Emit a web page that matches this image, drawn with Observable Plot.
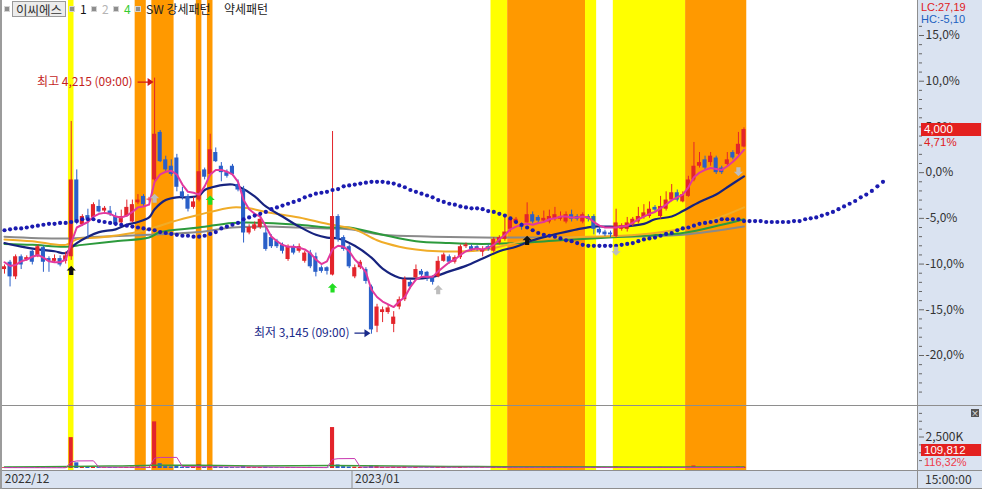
<!DOCTYPE html>
<html><head><meta charset="utf-8">
<script src="https://cdn.jsdelivr.net/npm/d3@7"></script>
<script src="https://cdn.jsdelivr.net/npm/@observablehq/plot@0.6"></script>
<style>
html,body{margin:0;padding:0;background:#fff;}
#wrap{position:relative;width:982px;height:489px;overflow:hidden;background:#fff;font-family:"Noto Sans CJK KR","Noto Sans",sans-serif;font-size:12px;color:#222;}
.a{position:absolute;white-space:nowrap;}
.t{position:absolute;white-space:nowrap;height:14px;line-height:14px;font-size:12px;}
.n{position:absolute;white-space:nowrap;font-family:"Liberation Sans",Arial,sans-serif;font-size:11px;height:12px;line-height:12px;}
.panel{position:absolute;left:0;}
.hl{position:absolute;left:0;width:982px;height:1px;background:#8e8e8e;}
.ico{position:absolute;top:6px;width:4px;height:4px;background:#8d8d8d;border:1px solid #d4d4d4;}
</style></head>
<body><div id="wrap">
 <div class="a" style="left:918px;top:0;width:64px;height:489px;background:#dae3f1;"></div>
 <div class="a" style="left:0;top:470px;width:918px;height:19px;background:#dae3f1;"></div>
 <div id="pMain" class="panel" style="top:0"></div>
 <div id="pVol" class="panel" style="top:405px"></div>
 <div id="pDate" class="panel" style="top:470px"></div>
 <div class="hl" style="top:405px"></div>
 <div class="hl" style="top:470px"></div>
 <div class="hl" style="top:488px"></div>
 <div class="a" style="left:917px;top:0;width:1px;height:489px;background:#8e8e8e;"></div>
 <div class="a" style="left:0;top:0;width:2px;height:489px;background:#9b9b9b;"></div>
 <div id="legend"></div>
 <div id="over"></div>
</div>
<script>
// ---------------- data ----------------
const stockName = "이씨에스";
const legendItems = ["1", "2", "4"];
const patternNames = ["SW 강세패턴", "약세패턴"];
const monthStart = [0, 63];
const monthLabel = ["2022/12", "2023/01"];
const lastTime = "15:00:00";

// candle values, % change vs reference price (3,820)
const opens = [-10.6,-9.8,-11.4,-9.2,-9.5,-8.6,-9.2,-8.2,-9.4,-9.7,-9.4,-9.7,-9.2,-0.8,-5.7,-4.7,-4.9,-3.7,-4.2,-4.2,-4.8,-5.5,-4.8,-5.4,-3.3,-2.6,-3.0,-0.8,4.4,1.4,0.7,1.6,-2.1,-2.6,-3.8,-3.0,0.3,-0.2,2.2,0.7,0.0,0.7,-1.3,-1.9,-6.6,-6.2,-6.0,-6.6,-7.1,-7.5,-7.9,-9.5,-8.1,-8.6,-9.7,-8.8,-9.2,-10.4,-10.4,-11.2,-4.8,-7.1,-8.1,-11.4,-10.4,-10.6,-12.5,-16.8,-15.3,-15.3,-16.6,-14.7,-13.9,-12.0,-11.5,-10.8,-10.9,-11.5,-11.4,-9.7,-9.2,-9.8,-9.3,-8.1,-8.1,-8.1,-8.7,-8.1,-8.6,-7.7,-7.3,-6.2,-5.5,-5.7,-5.5,-4.6,-4.9,-5.3,-5.4,-5.1,-5.1,-5.4,-4.6,-4.8,-5.4,-4.8,-4.8,-6.2,-6.5,-6.6,-7.0,-6.2,-6.2,-5.7,-5.4,-4.9,-4.8,-3.8,-4.8,-4.0,-3.0,-2.2,-3.2,-2.6,-0.8,0.7,1.4,1.1,1.6,0.5,0.9,2.2,2.0,2.8];
const highs = [-10.1,-9.6,-9.0,-9.0,-9.1,-8.4,-7.9,-8.0,-9.2,-9.0,-9.1,-8.7,5.6,0.3,-4.6,-4.0,-3.3,-3.0,-3.7,-3.7,-4.4,-4.1,-3.0,-3.0,-2.4,-2.4,-2.7,10.34,4.6,1.8,1.4,2.0,-1.6,-2.4,-2.7,3.6,0.5,4.2,2.7,1.1,0.3,0.9,-0.8,-1.5,-5.7,-5.4,-4.9,-5.9,-6.8,-7.3,-7.7,-7.9,-7.9,-7.8,-8.6,-8.5,-8.8,-10.2,-10.3,4.5,-4.6,-6.9,-7.9,-10.1,-9.6,-10.4,-12.3,-14.4,-14.7,-14.5,-15.2,-13.6,-11.4,-11.8,-10.1,-10.6,-10.8,-11.3,-9.2,-8.8,-9.0,-9.1,-7.9,-7.7,-7.9,-8.0,-8.1,-7.9,-7.1,-6.9,-4.6,-4.9,-4.9,-5.5,-3.3,-4.3,-4.7,-4.2,-4.1,-3.8,-4.3,-4.3,-4.1,-4.6,-4.4,-4.6,-4.6,-6.0,-6.3,-6.4,-4.0,-5.6,-4.9,-4.9,-3.8,-3.5,-3.2,-3.6,-2.6,-2.1,-1.3,-1.9,-2.1,-0.4,3.3,2.2,1.8,2.2,1.8,0.7,2.2,2.4,4.4,4.9];
const lows = [-11.1,-12.5,-11.7,-10.6,-9.7,-10.1,-9.3,-10.9,-10.9,-9.9,-10.3,-10.0,-9.6,-5.7,-5.9,-7.3,-5.1,-4.4,-4.4,-4.8,-5.9,-5.7,-4.9,-5.5,-3.5,-3.7,-3.2,-1.0,1.1,0.0,-0.4,-2.1,-3.0,-4.3,-4.0,-3.2,-0.8,-0.4,1.1,-1.0,-0.6,-0.4,-2.1,-7.7,-6.8,-6.4,-6.2,-8.6,-8.3,-8.3,-8.9,-9.7,-9.0,-8.8,-9.9,-10.5,-11.4,-11.0,-11.2,-11.3,-7.6,-8.6,-10.5,-11.6,-10.6,-12.2,-17.67,-17.5,-16.4,-15.5,-17.5,-15.0,-14.1,-12.7,-11.7,-11.4,-11.9,-12.3,-11.5,-9.8,-10.0,-10.0,-9.5,-8.3,-8.6,-8.6,-9.2,-8.6,-8.8,-7.9,-7.5,-6.5,-5.7,-6.3,-5.7,-5.6,-5.5,-5.5,-5.6,-5.3,-5.3,-5.6,-5.4,-5.3,-5.6,-5.4,-6.8,-6.8,-7.0,-7.1,-7.2,-6.4,-6.5,-5.9,-5.6,-5.1,-5.0,-4.3,-5.1,-4.2,-3.2,-3.2,-3.3,-2.7,-1.0,0.5,0.3,0.7,-0.2,-0.2,0.7,1.4,1.8,2.7];
const closes = [-10.3,-11.4,-9.2,-10.1,-9.3,-9.8,-8.1,-9.8,-9.7,-9.4,-10.1,-9.1,-0.8,-5.5,-4.8,-5.1,-3.5,-4.3,-3.9,-4.6,-5.7,-4.8,-3.8,-3.5,-3.0,-3.5,-2.9,4.2,1.2,0.3,-0.2,-1.6,-2.7,-4.0,-3.2,0.1,-0.5,2.5,1.2,0.0,-0.4,-0.2,-1.9,-6.6,-6.0,-5.7,-5.1,-8.4,-8.1,-8.1,-8.6,-8.1,-8.8,-8.1,-8.8,-10.3,-10.9,-10.8,-10.8,-4.8,-7.3,-8.4,-10.3,-10.4,-9.8,-11.9,-17.2,-14.7,-15.0,-14.8,-15.8,-13.9,-11.7,-12.5,-10.6,-11.2,-11.4,-12.0,-9.7,-9.0,-9.8,-9.3,-8.1,-7.9,-8.4,-8.4,-8.4,-8.4,-7.3,-7.1,-6.5,-5.1,-5.1,-6.0,-4.6,-5.4,-5.3,-5.0,-4.8,-4.6,-4.8,-4.6,-5.1,-5.1,-4.6,-5.1,-6.2,-6.6,-6.8,-6.8,-5.5,-5.8,-5.5,-5.1,-4.8,-4.4,-4.0,-4.1,-3.7,-3.0,-2.2,-3.0,-2.4,-0.8,0.7,1.1,0.5,1.8,0.0,0.0,1.4,1.6,3.1,4.71];
// volume in thousands of shares
const volumes = [60,90,80,50,40,60,70,50,40,30,40,50,2450,450,120,100,90,70,60,80,70,60,90,110,140,90,70,3700,380,150,120,160,110,90,120,320,120,260,140,100,80,70,60,150,90,70,80,100,60,50,60,80,60,50,70,90,80,60,50,3250,280,150,120,110,80,100,200,180,90,70,110,90,130,50,90,40,50,60,110,70,50,40,80,40,30,30,50,30,90,60,130,110,60,50,120,70,50,60,70,60,40,60,50,30,50,40,90,50,40,40,120,50,60,50,70,60,70,40,90,80,70,50,60,110,200,90,80,70,90,50,70,60,130,110];

// moving averages (%)
const ma5 = [-9.8,-10.2,-10.1,-9.7,-9.5,-9.2,-9.0,-9.3,-9.7,-9.8,-9.8,-9.5,-7.7,-6.0,-5.7,-5.4,-4.8,-4.5,-4.4,-4.5,-4.8,-4.9,-4.7,-4.3,-3.8,-3.7,-3.5,-1.0,-0.2,0.1,0.2,-0.2,-1.3,-2.1,-2.2,-2.4,-1.5,-0.2,0.3,0.3,0.1,-0.2,-1.0,-3.0,-4.0,-4.5,-4.8,-5.9,-7.0,-7.5,-7.9,-8.1,-8.1,-8.2,-8.4,-8.8,-9.5,-10.0,-9.7,-8.4,-8.0,-8.1,-8.6,-9.5,-10.1,-10.9,-12.8,-13.6,-14.1,-14.4,-14.7,-14.1,-13.6,-12.5,-11.7,-11.4,-11.4,-11.4,-10.8,-10.3,-9.8,-9.5,-9.0,-8.6,-8.4,-8.3,-8.4,-8.2,-7.9,-7.3,-6.8,-6.2,-5.9,-5.7,-5.6,-5.7,-5.5,-5.4,-5.1,-5.0,-4.8,-4.8,-4.9,-4.9,-4.8,-4.9,-5.4,-5.8,-6.0,-6.0,-6.0,-5.9,-5.8,-5.5,-5.1,-4.8,-4.5,-4.3,-3.9,-3.5,-3.0,-2.7,-2.4,-1.6,-0.5,0.0,0.3,0.5,0.4,0.3,0.7,1.2,1.8,2.5];
const ma20Bars = [0,3,6,9,11,12,13,15,17,20,22,24,26,27,29,31,33,35,36,38,41,42,45,47,50,53,56,58,60,63,66,68,71,73,77,80,83,86,89,92,95,98,100,103,106,108,111,115,117,120,122,125,128,130,133];
const ma20 = [-7.7,-8.1,-8.4,-8.6,-8.8,-8.2,-7.7,-7.0,-6.5,-6.2,-5.7,-5.4,-4.9,-4.0,-3.0,-2.7,-2.7,-2.5,-1.9,-1.5,-1.3,-1.5,-2.6,-3.7,-4.8,-5.9,-6.8,-7.1,-7.2,-8.0,-9.3,-10.5,-11.5,-11.6,-11.4,-10.8,-10.2,-9.4,-8.6,-8.1,-7.4,-6.9,-6.6,-6.2,-5.9,-5.9,-5.9,-5.6,-5.1,-4.8,-4.2,-3.2,-2.4,-1.6,-0.4];
const ma60Bars = [0,5,11,13,17,23,27,30,35,41,44,47,53,58,63,67,71,74,78,83,87,91,95,100,111,117,123,129,133];
const ma60 = [-7.3,-7.5,-7.9,-7.3,-7.1,-6.6,-6.0,-5.4,-4.6,-3.8,-3.9,-4.3,-4.9,-5.6,-6.2,-7.4,-8.1,-8.4,-8.6,-8.6,-8.4,-7.8,-7.3,-7.1,-6.9,-6.6,-6.0,-4.8,-3.8];
const ma120Bars = [0,5,11,14,20,26,28,35,41,47,53,58,62,68,74,80,86,92,100,111,122,129,133];
const ma120 = [-7.8,-7.9,-8.1,-7.9,-7.5,-7.1,-6.5,-6.0,-5.5,-5.5,-5.7,-6.0,-6.0,-6.8,-7.5,-7.7,-7.8,-7.7,-7.4,-7.0,-6.6,-5.7,-5.1];
const ma240Bars = [0,11,17,26,35,41,47,53,58,62,68,77,86,95,111,122,133];
const ma240 = [-7.0,-7.2,-7.0,-6.8,-6.5,-6.0,-5.9,-6.0,-6.1,-6.2,-6.8,-7.0,-7.1,-7.1,-7.0,-6.8,-5.9];
// dotted (leading) line, one point per bar, extends 25 bars ahead
const leadLine = [-6.3,-6.2,-6.1,-6.1,-6.0,-5.9,-5.8,-5.7,-5.6,-5.6,-5.5,-5.5,-5.4,-5.3,-5.1,-5.1,-5.1,-5.3,-5.4,-5.5,-5.6,-5.7,-5.8,-5.9,-6.0,-6.1,-6.2,-6.3,-6.5,-6.6,-6.7,-6.8,-6.9,-6.9,-7.0,-7.0,-6.9,-6.7,-6.5,-6.1,-5.9,-5.7,-5.5,-5.1,-4.9,-4.7,-4.5,-4.3,-4.0,-3.8,-3.6,-3.4,-3.2,-3.0,-2.7,-2.5,-2.3,-2.2,-2.1,-1.9,-1.8,-1.5,-1.4,-1.3,-1.2,-1.1,-1.0,-1.0,-1.0,-1.1,-1.2,-1.4,-1.6,-1.9,-2.1,-2.3,-2.5,-2.7,-3.0,-3.2,-3.4,-3.5,-3.7,-3.8,-3.9,-3.9,-4.0,-4.2,-4.3,-4.5,-4.7,-5.0,-5.4,-5.7,-6.0,-6.3,-6.6,-6.8,-6.9,-7.0,-7.2,-7.4,-7.5,-7.7,-7.9,-8.0,-8.0,-8.0,-8.0,-8.0,-8.0,-7.9,-7.8,-7.7,-7.5,-7.3,-7.2,-7.1,-6.9,-6.7,-6.6,-6.3,-6.1,-6.0,-5.8,-5.6,-5.5,-5.4,-5.3,-5.1,-5.1,-5.1,-5.1,-5.3,-5.3,-5.3,-5.3,-5.4,-5.4,-5.4,-5.4,-5.4,-5.3,-5.3,-5.1,-5.0,-4.9,-4.7,-4.5,-4.3,-4.0,-3.7,-3.4,-3.1,-2.7,-2.4,-2.0,-1.5,-1.0];
// volume averages (K)
const volMaBars = [0,11,12,13,16,17,26,27,28,31,32,58,59,60,63,64,133];
const volMa = [70,60,520,600,610,100,90,820,880,880,150,70,720,780,790,110,80];
const volMa2Bars = [0,12,20,27,35,45,59,70,85,100,133];
const volMa2 = [110,150,200,260,250,200,230,190,150,130,120];

// pattern zones (bar ranges)
const zoneFrom = [12,24,27,35,37,88,91,105,110,123];
const zoneTo   = [12,25,30,35,37,90,104,106,122,133];
const zoneKind = ["강세","약세","약세","약세","약세","강세","약세","강세","강세","약세"];
// signals
const sigBars  = [12,27,37,59,78,94,110,132];
const sigLevel = [-10.7,-2.8,-3.0,-12.6,-12.8,-7.4,-8.6,0.1];
const sigType  = ["1","2","4","4","2","1","2","2"];
const sigDir   = ["up","up","up","up","up","up","down","down"];
// extremes
const hiBar = 27, hiVal = 10.34, hiText = "최고 4,215 (09:00)";
const loBar = 66, loVal = -17.67, loText = "최저 3,145 (09:00)";
// current values
const lastPrice = 4000, lastPct = 4.71, lastVol = 109812, lastVolPct = 116.32, lcVal = 27.19, hcVal = -5.10;
const priceTicks = [15,10,5,0,-5,-10,-15,-20];
const volTicks = [2500];

// ---------------- styles ----------------
const RED = "#e3242b", BLUE = "#2a5fc8";
const zoneColor = {"강세": "#ffff00", "약세": "#ff9900"};
const sigColor = {"1": "#111111", "2": "#bdbdbd", "4": "#22dd22"};
const FONT = '"Noto Sans CJK KR","Noto Sans",sans-serif';

const candles = opens.map((o, i) => ({i, open: o, high: highs[i], low: lows[i], close: closes[i]}));
const cCol = d => d.close >= d.open ? RED : BLUE;
const zones = zoneFrom.map((f, k) => ({from: f, to: zoneTo[k], kind: zoneKind[k]}));
const series = (bars, vals) => bars.map((b, k) => ({i: b, v: vals[k]}));
const sigs = sigBars.map((b, k) => ({i: b, v: sigLevel[k], type: sigType[k], dir: sigDir[k]}));
const vols = volumes.map((v, i) => ({i, v, c: cCol(candles[i])}));
const hi = [{i: hiBar, v: hiVal, text: hiText}];
const lo = [{i: loBar, v: loVal, text: loText}];

const upArrow = {draw(ctx, size) { const r = Math.sqrt(size / Math.PI), s = r * 0.45;
  ctx.moveTo(0, -r); ctx.lineTo(r, 0); ctx.lineTo(s, 0); ctx.lineTo(s, r); ctx.lineTo(-s, r); ctx.lineTo(-s, 0); ctx.lineTo(-r, 0); ctx.closePath(); }};
const downArrow = {draw(ctx, size) { const r = Math.sqrt(size / Math.PI), s = r * 0.45;
  ctx.moveTo(0, r); ctx.lineTo(r, 0); ctx.lineTo(s, 0); ctx.lineTo(s, -r); ctx.lineTo(-s, -r); ctx.lineTo(-s, 0); ctx.lineTo(-r, 0); ctx.closePath(); }};
const leader = {draw(ctx, size) { const r = Math.sqrt(size / Math.PI);
  ctx.moveTo(-r, -0.6); ctx.lineTo(-6, -0.6); ctx.lineTo(-6, -4); ctx.lineTo(0, 0); ctx.lineTo(-6, 4); ctx.lineTo(-6, 0.6); ctx.lineTo(-r, 0.6); ctx.closePath(); }};

const xOpts = {type: "linear", domain: [0, 133], range: [4, 4 + 5.56 * 133], axis: null};
const baseStyle = {background: "transparent", fontFamily: FONT, fontSize: "12px", color: "#333", overflow: "visible"};
const zoneMark = Plot.rect(zones, {x1: d => d.from - 0.5, x2: d => d.to + 0.5, fill: d => zoneColor[d.kind]});
const pctFmt = d => d.toFixed(1).replace(".", ",") + "%";

const main = Plot.plot({
  width: 982, height: 405, marginTop: 0, marginBottom: 0, marginLeft: 0, marginRight: 64,
  x: xOpts,
  y: {domain: [-20, 15], range: [355, 35]},
  style: baseStyle,
  marks: [
    zoneMark,
    Plot.line(series(ma240Bars, ma240), {x: "i", y: "v", stroke: "#8a8a8a", strokeWidth: 2, curve: "catmull-rom"}),
    Plot.line(series(ma120Bars, ma120), {x: "i", y: "v", stroke: "#2c9a3c", strokeWidth: 2, curve: "catmull-rom"}),
    Plot.line(series(ma60Bars, ma60), {x: "i", y: "v", stroke: "#f0ac28", strokeWidth: 2, curve: "catmull-rom"}),
    Plot.line(series(ma20Bars, ma20), {x: "i", y: "v", stroke: "#17237f", strokeWidth: 2.2, curve: "catmull-rom"}),
    Plot.ruleX(candles, {x: "i", y1: "low", y2: "high", stroke: cCol, strokeWidth: 1}),
    Plot.rect(candles, {x1: d => d.i - 0.37, x2: d => d.i + 0.37, y1: "open", y2: "close", fill: cCol}),
    Plot.line(ma5.map((v, i) => ({i, v})), {x: "i", y: "v", stroke: "#e2389e", strokeWidth: 2}),
    Plot.dot(leadLine.map((v, i) => ({i, v})), {x: "i", y: "v", r: 2.1, fill: "#1b1bb0"}),
    Plot.dot(sigs, {x: "i", y: "v", r: 4.6, symbol: d => d.dir === "up" ? upArrow : downArrow, fill: d => sigColor[d.type], stroke: "none"}),
    Plot.text(hi, {x: "i", y: "v", text: "text", textAnchor: "end", dx: -22, dy: 4, fill: "#c41e1e", fontSize: 12}),
    Plot.dot(hi, {x: "i", y: "v", r: 16, symbol: leader, dx: -1, dy: 4, fill: "#d01818", stroke: "none"}),
    Plot.text(lo, {x: "i", y: "v", text: "text", textAnchor: "end", dx: -22, dy: -1, fill: "#1a2a8a", fontSize: 12}),
    Plot.dot(lo, {x: "i", y: "v", r: 16, symbol: leader, dx: -1, dy: -1, fill: "#1a2a8a", stroke: "none"}),
    Plot.axisY({anchor: "right", ticks: d3.range(-24, 17).filter(v => v % 5 !== 0), tickSize: 3, tickFormat: () => "", label: null, stroke: "#666"}),
    Plot.axisY({anchor: "right", ticks: priceTicks, tickSize: 5, tickPadding: 2, tickFormat: pctFmt, label: null, fill: "#333", stroke: "#666"})
  ]
});
document.getElementById("pMain").appendChild(main);

const vol = Plot.plot({
  width: 982, height: 65, marginTop: 0, marginBottom: 0, marginLeft: 0, marginRight: 64,
  x: xOpts,
  y: {domain: [0, 2500], range: [63, 31.5]},
  style: baseStyle,
  marks: [
    zoneMark,
    Plot.rect(vols, {x1: d => d.i - 0.37, x2: d => d.i + 0.37, y1: 0, y2: "v", fill: "c"}),
    Plot.line(series(volMa2Bars, volMa2), {x: "i", y: "v", stroke: "#3a9a3a", strokeWidth: 1.5, curve: "catmull-rom"}),
    Plot.line(series(volMaBars, volMa), {x: "i", y: "v", stroke: "#c838b0", strokeWidth: 1}),
    Plot.axisY({anchor: "right", ticks: [625, 1250, 1875, 3125, 3750, 4375], tickSize: 3, tickFormat: () => "", label: null, stroke: "#666"}),
    Plot.axisY({anchor: "right", ticks: volTicks, tickSize: 5, tickPadding: 2, tickFormat: d => d3.format(",")(d) + "K", label: null, fill: "#333", stroke: "#666"})
  ]
});
document.getElementById("pVol").appendChild(vol);

const months = monthStart.map((s, k) => ({i: s, label: monthLabel[k]}));
const dateP = Plot.plot({
  width: 982, height: 18, margin: 0, marginRight: 64,
  x: xOpts,
  style: baseStyle,
  marks: [
    Plot.ruleX(months.filter(m => m.i > 0), {x: d => d.i - 0.5, stroke: "#8e8e8e"}),
    Plot.text(months, {x: d => d.i - 0.5, text: "label", textAnchor: "start", dx: 3, frameAnchor: "middle", fill: "#333", fontSize: 12})
  ]
});
document.getElementById("pDate").appendChild(dateP);

// ---------------- overlays ----------------
const ys = main.scale("y");
const fmtN = d3.format(",");
const dec2 = v => v.toFixed(2).replace(".", ",");
const over = document.getElementById("over");
const yl = ys.apply(lastPct);
over.innerHTML = `
 <div class="n" style="left:921px;top:1px;color:#e0201c">LC:${dec2(lcVal)}</div>
 <div class="n" style="left:921px;top:13px;color:#2060c0">HC:${dec2(hcVal)}</div>
 <div class="n" style="left:921px;top:${yl - 6.5}px;width:60px;height:13px;line-height:13px;background:#e3201f;color:#fff;padding-left:3px;box-sizing:border-box;font-size:11.5px">${fmtN(lastPrice)}</div>
 <div class="n" style="left:924px;top:${yl + 7}px;color:#e0201c;font-size:11.5px">${dec2(lastPct)}%</div>
 <div class="a" style="left:971px;top:409px;width:8px;height:8px;background:#555;color:#fff;font-size:8px;line-height:8px;text-align:center">×</div>
 <div class="n" style="left:921px;top:444px;width:60px;height:12px;line-height:12px;background:#e3201f;color:#fff;padding-left:3px;box-sizing:border-box;font-size:11.5px">${fmtN(lastVol)}</div>
 <div class="n" style="left:924px;top:457px;height:11px;line-height:11px;color:#ef3a4a;font-size:11px">${dec2(lastVolPct)}%</div>
 <div class="t" style="left:925px;top:472px;color:#333">${lastTime}</div>`;

const lg = document.getElementById("legend");
lg.innerHTML = `
 <div class="ico" style="left:4px"></div>
 <div class="t" style="left:12px;top:1px;width:54px;height:16px;line-height:16px;background:#ececec;border:1px solid #9a9a9a;box-sizing:border-box;text-align:center;font-size:12.5px;color:#333">${stockName}</div>
 <div class="ico" style="left:69px"></div>
 <div class="t" style="left:80px;top:2px;color:#111">${legendItems[0]}</div>
 <div class="ico" style="left:91px"></div>
 <div class="t" style="left:102px;top:2px;color:#b5b5b5">${legendItems[1]}</div>
 <div class="ico" style="left:113px"></div>
 <div class="t" style="left:124px;top:2px;color:#33cc33">${legendItems[2]}</div>
 <div class="ico" style="left:135px"></div>
 <div class="t" style="left:146px;top:2px;color:#222">${patternNames[0]}</div>
 <div class="t" style="left:224px;top:2px;color:#222">${patternNames[1]}</div>`;
</script>
</body></html>
